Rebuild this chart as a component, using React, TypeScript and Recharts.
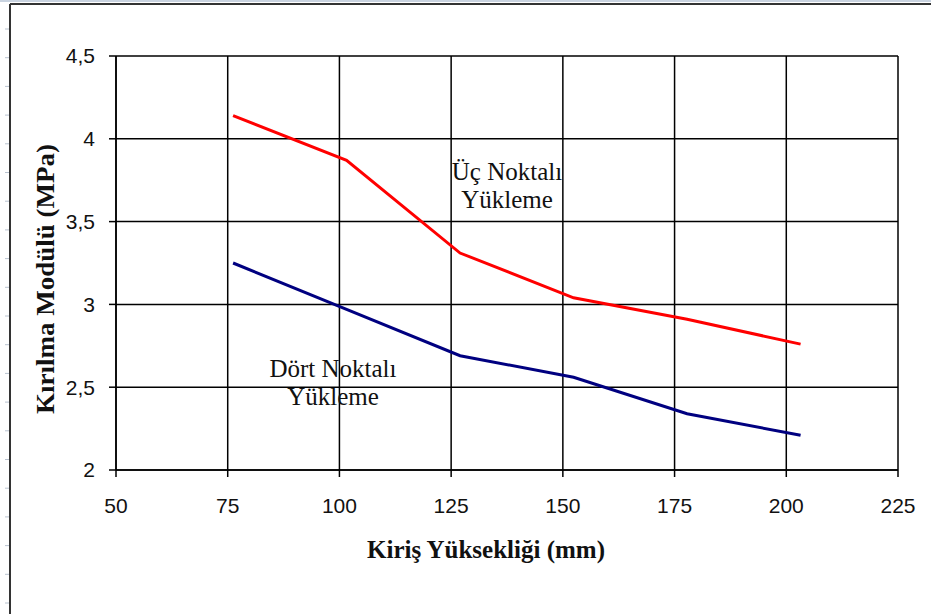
import { LineChart, Line, XAxis, YAxis, CartesianGrid } from 'recharts';

// beam heights (mm) – 3" to 8"
const kirisYuksekligi = [76.2, 101.6, 127, 152.4, 177.8, 203.2];
const ucNoktali = [4.14, 3.87, 3.31, 3.04, 2.91, 2.76];
const dortNoktali = [3.25, 2.97, 2.69, 2.56, 2.34, 2.21];

const xTicks = [50, 75, 100, 125, 150, 175, 200, 225];
const yTicks = [2, 2.5, 3, 3.5, 4, 4.5];

const data = kirisYuksekligi.map((h, i) => ({
  h,
  uc: ucNoktali[i],
  dort: dortNoktali[i],
}));

const serif = '"Liberation Serif", "Times New Roman", serif';
const sans = '"Liberation Sans", Arial, sans-serif';

const tickStyle = { fontSize: 21, fontFamily: sans, fill: '#111' };

const rowMarks = Array.from({ length: 21 }, (_, i) => 29 + i * 28.7);

export default function App() {
  return (
    <div style={{ position: 'absolute', left: 0, top: 0, width: 931, height: 614, background: '#fff' }}>
      <LineChart
        width={931}
        height={614}
        data={data}
        margin={{ top: 56, right: 33, bottom: 0, left: 0 }}
      >
        <CartesianGrid stroke="#000" strokeWidth={1.5} />
        <XAxis
          dataKey="h"
          type="number"
          domain={[50, 225]}
          ticks={xTicks}
          height={144}
          tickSize={7}
          tickMargin={21}
          tick={tickStyle}
          axisLine={{ stroke: '#000', strokeWidth: 1.5 }}
          tickLine={{ stroke: '#000', strokeWidth: 1.5 }}
        />
        <YAxis
          type="number"
          domain={[2, 4.5]}
          ticks={yTicks}
          width={116}
          tickSize={7}
          tickMargin={14}
          tick={tickStyle}
          tickFormatter={(v) => String(v).replace('.', ',')}
          axisLine={{ stroke: '#000', strokeWidth: 1.5 }}
          tickLine={{ stroke: '#000', strokeWidth: 1.5 }}
        />
        <Line
          dataKey="uc"
          stroke="#ff0000"
          strokeWidth={3}
          dot={false}
          isAnimationActive={false}
        />
        <Line
          dataKey="dort"
          stroke="#000080"
          strokeWidth={3}
          dot={false}
          isAnimationActive={false}
        />
      </LineChart>

      <svg
        width={931}
        height={614}
        style={{ position: 'absolute', left: 0, top: 0, pointerEvents: 'none' }}
      >
        {/* sheet frame */}
        <line x1={0} y1={1} x2={931} y2={1} stroke="#c9d3e0" strokeWidth={2} />
        <line x1={10} y1={4} x2={931} y2={4} stroke="#333" strokeWidth={2} />
        <line x1={10} y1={4} x2={10} y2={614} stroke="#333" strokeWidth={2} />
        {rowMarks.map((y) => (
          <line key={y} x1={5} y1={y} x2={9} y2={y} stroke="#b8c2cf" strokeWidth={1} />
        ))}

        {/* annotations */}
        <text x={507} y={180} textAnchor="middle" fontFamily={serif} fontSize={25} fill="#111">
          Üç Noktalı
        </text>
        <text x={507} y={208} textAnchor="middle" fontFamily={serif} fontSize={25} fill="#111">
          Yükleme
        </text>
        <text x={333} y={377} textAnchor="middle" fontFamily={serif} fontSize={25} fill="#111">
          Dört Noktalı
        </text>
        <text x={333} y={405} textAnchor="middle" fontFamily={serif} fontSize={25} fill="#111">
          Yükleme
        </text>

        {/* axis titles */}
        <text
          x={486}
          y={558}
          textAnchor="middle"
          fontFamily={serif}
          fontSize={25}
          fontWeight="bold"
          fill="#111"
        >
          Kiriş Yüksekliği (mm)
        </text>
        <text
          transform="translate(54 279) rotate(-90) scale(1.08 1)"
          textAnchor="middle"
          fontFamily={serif}
          fontSize={25}
          fontWeight="bold"
          fill="#111"
        >
          Kırılma Modülü (MPa)
        </text>
      </svg>
    </div>
  );
}
